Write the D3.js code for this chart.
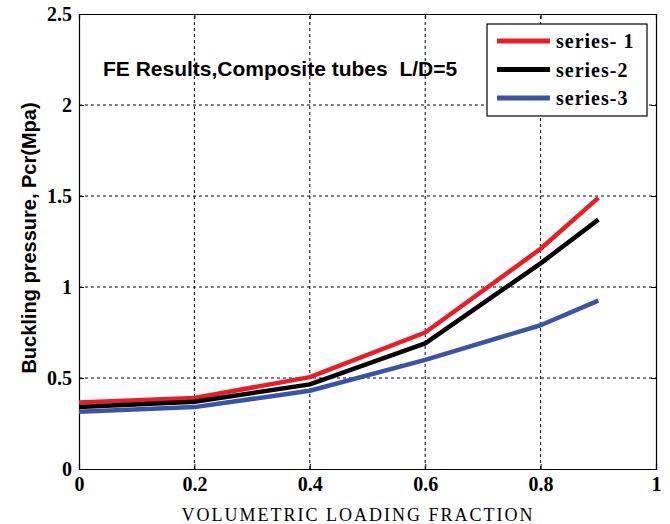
<!DOCTYPE html>
<html>
<head>
<meta charset="utf-8">
<script src="https://cdn.jsdelivr.net/npm/d3@7"></script>
<style>
  body { margin: 0; background: #fff; }
  svg { display: block; }
</style>
</head>
<body>
<svg></svg>
<script>
const width = 670;
const height = 524;

// data
const fractions = [0, 0.2, 0.4, 0.6, 0.8, 0.9];
const series1 = [0.365, 0.39, 0.505, 0.75, 1.21, 1.49];
const series2 = [0.34, 0.37, 0.465, 0.69, 1.13, 1.37];
const series3 = [0.315, 0.34, 0.43, 0.60, 0.79, 0.925];
const seriesNames = ["series- 1", "series-2", "series-3"];
const seriesColors = ["#ed1c24", "#000000", "#3a53a4"];
const xTicks = [0, 0.2, 0.4, 0.6, 0.8, 1];
const yTicks = [0, 0.5, 1, 1.5, 2, 2.5];

const margin = { left: 79, right: 14, top: 14, bottom: 55 };

let svg = d3.select("svg").attr("width", width).attr("height", height);

let x = d3.scaleLinear().domain([0, 1]).range([margin.left, width - margin.right]);
let y = d3.scaleLinear().domain([0, 2.5]).range([height - margin.bottom, margin.top]);

// grid
let grid = svg.append("g")
    .style("stroke", "#000")
    .style("stroke-width", 1)
    .style("stroke-dasharray", "3,3");
xTicks.slice(1, -1).forEach((t) => {
    grid.append("line")
        .attr("x1", x(t)).attr("x2", x(t))
        .attr("y1", y(0)).attr("y2", y(2.5));
});
yTicks.slice(1, -1).forEach((t) => {
    grid.append("line")
        .attr("x1", x(0)).attr("x2", x(1))
        .attr("y1", y(t)).attr("y2", y(t));
});

// axes
let xAxis = d3.axisBottom(x).tickValues(xTicks).tickFormat(d3.format("")).tickSize(-5).tickPadding(8);
let yAxis = d3.axisLeft(y).tickValues(yTicks).tickFormat(d3.format("")).tickSize(-5).tickPadding(7);

svg.append("g").attr("transform", `translate(0,${y(0)})`).call(xAxis);
svg.append("g").attr("transform", `translate(${x(0)},0)`).call(yAxis);
svg.append("g").attr("transform", `translate(0,${y(2.5)})`)
    .call(d3.axisTop(x).tickValues(xTicks).tickFormat("").tickSize(-5));
svg.append("g").attr("transform", `translate(${x(1)},0)`)
    .call(d3.axisRight(y).tickValues(yTicks).tickFormat("").tickSize(-5));

svg.selectAll(".domain").attr("stroke", "#000").attr("stroke-width", 1.2);
svg.selectAll(".tick line").attr("stroke", "#000");
svg.selectAll(".tick text")
    .style("font-family", "'Liberation Serif', 'Times New Roman', serif")
    .style("font-weight", "bold")
    .style("font-size", "20px")
    .attr("fill", "#000");

// lines
let line = d3.line()
    .x((d) => x(d[0]))
    .y((d) => y(d[1]));

[series1, series2, series3].forEach((vals, i) => {
    svg.append("path")
        .attr("d", line(fractions.map((f, j) => [f, vals[j]])))
        .attr("fill", "none")
        .attr("stroke", seriesColors[i])
        .attr("stroke-width", 4.5)
        .attr("stroke-linejoin", "round");
});

// title
svg.append("text")
    .attr("x", 103)
    .attr("y", 76)
    .text("FE Results,Composite tubes  L/D=5")
    .style("font-family", "'Liberation Sans', Arial, sans-serif")
    .style("font-weight", "bold")
    .style("font-size", "21px")
    .style("white-space", "pre")
    .attr("xml:space", "preserve");

// legend
let legend = svg.append("g");
legend.append("rect")
    .attr("x", 487).attr("y", 24)
    .attr("width", 160).attr("height", 92)
    .attr("fill", "#fff")
    .attr("stroke", "#000")
    .attr("stroke-width", 1.2);
seriesNames.forEach((name, i) => {
    let yy = 41 + i * 28.5;
    legend.append("line")
        .attr("x1", 497).attr("x2", 550)
        .attr("y1", yy).attr("y2", yy)
        .attr("stroke", seriesColors[i])
        .attr("stroke-width", 5);
    legend.append("text")
        .attr("x", 556).attr("y", yy + 7)
        .text(name)
        .style("font-family", "'Liberation Serif', 'Times New Roman', serif")
        .style("font-weight", "bold")
        .style("font-size", "20px")
        .style("letter-spacing", "1px");
});

// axis labels
svg.append("text")
    .attr("transform", `translate(36,238) rotate(-90)`)
    .attr("text-anchor", "middle")
    .text("Buckling pressure, Pcr(Mpa)")
    .style("font-family", "'Liberation Sans', Arial, sans-serif")
    .style("font-weight", "bold")
    .style("font-size", "20px");

svg.append("text")
    .attr("x", 358)
    .attr("y", 521)
    .attr("text-anchor", "middle")
    .text("VOLUMETRIC LOADING FRACTION")
    .style("font-family", "'Liberation Serif', 'Times New Roman', serif")
    .style("font-size", "18px")
    .style("letter-spacing", "2px");
</script>
</body>
</html>
